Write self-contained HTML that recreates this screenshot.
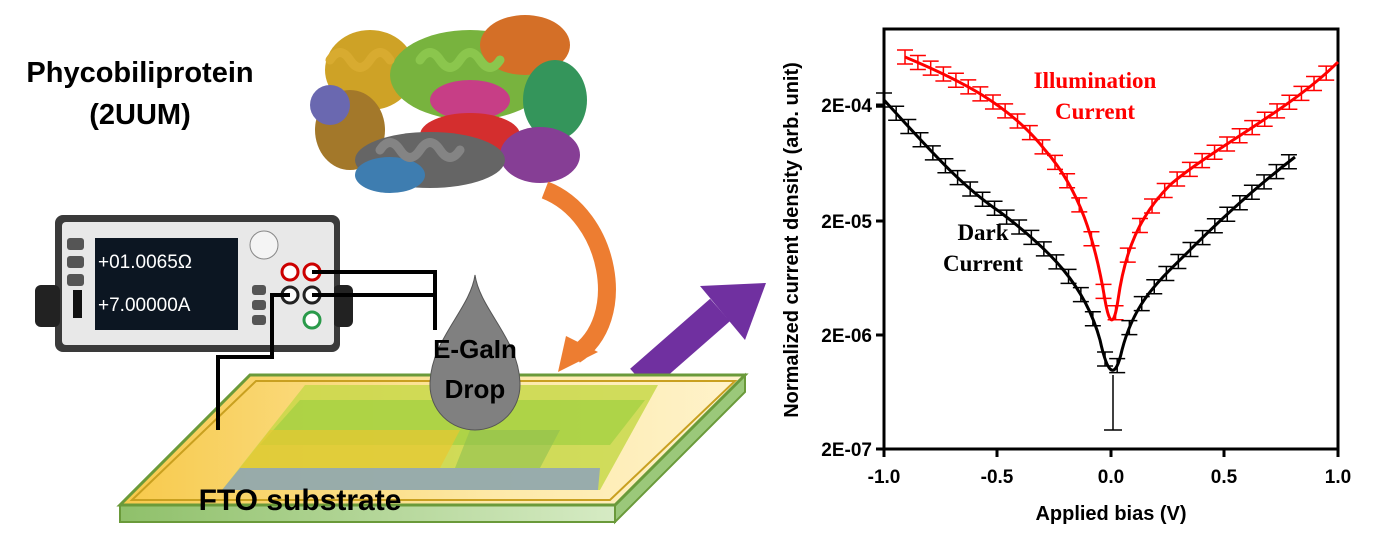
<!DOCTYPE html>
<html><head><meta charset="utf-8"><style>
body{margin:0;background:#fff;width:1379px;height:542px;overflow:hidden}
svg{display:block}
text{font-family:"Liberation Sans",sans-serif}
text.serif{font-family:"Liberation Serif",serif}
</style></head><body>
<svg id="s" width="1379" height="542" viewBox="0 0 1379 542" xmlns="http://www.w3.org/2000/svg">
<defs>
<linearGradient id="sub" x1="0" y1="0" x2="1" y2="0"><stop offset="0" stop-color="#f7c94a"/><stop offset="0.6" stop-color="#fde9a8"/><stop offset="1" stop-color="#fff3cc"/></linearGradient>
<linearGradient id="grn" x1="0" y1="0" x2="1" y2="0"><stop offset="0" stop-color="#8fc06a"/><stop offset="1" stop-color="#d6ebc4"/></linearGradient>
</defs>
<text x="140" y="82" font-size="29" font-weight="bold" text-anchor="middle">Phycobiliprotein</text>
<text x="140" y="124" font-size="29" font-weight="bold" text-anchor="middle">(2UUM)</text>
<g stroke-width="9" fill="none" stroke-linecap="round" opacity="0.9">
<ellipse cx="370" cy="70" rx="45" ry="40" fill="#c9990f" stroke="none"/>
<ellipse cx="350" cy="130" rx="35" ry="40" fill="#9a6a14" stroke="none"/>
<ellipse cx="330" cy="105" rx="20" ry="20" fill="#5a58a8" stroke="none"/>
<ellipse cx="470" cy="75" rx="80" ry="45" fill="#6aab2a" stroke="none"/>
<ellipse cx="525" cy="45" rx="45" ry="30" fill="#d06010" stroke="none"/>
<ellipse cx="555" cy="100" rx="32" ry="40" fill="#1f8a4a" stroke="none"/>
<ellipse cx="470" cy="100" rx="40" ry="20" fill="#c22a7a" stroke="none"/>
<ellipse cx="470" cy="135" rx="50" ry="22" fill="#d01818" stroke="none"/>
<ellipse cx="540" cy="155" rx="40" ry="28" fill="#7a2a8a" stroke="none"/>
<ellipse cx="430" cy="160" rx="75" ry="28" fill="#555" stroke="none"/>
<ellipse cx="390" cy="175" rx="35" ry="18" fill="#2a70a8" stroke="none"/>
<path d="M330 60 q10 -15 20 0 q10 15 20 0 q10 -15 20 0" stroke="#d4a21a"/>
<path d="M420 60 q10 -15 20 0 q10 15 20 0 q10 -15 20 0 q10 15 20 0" stroke="#7fc03a"/>
<path d="M380 150 q10 -15 20 0 q10 15 20 0 q10 -15 20 0 q10 15 20 0" stroke="#777"/>
</g>
<path d="M545 190 C 610 215, 630 320, 575 355" stroke="#ed7d31" stroke-width="18" fill="none"/>
<polygon points="558,372 598,352 566,336" fill="#ed7d31"/>
<path d="M640 380 L 720 310" stroke="#7030a0" stroke-width="30" fill="none"/>
<polygon points="700,286 766,283 745,340" fill="#7030a0"/>
<polygon points="120,505 615,505 615,522 120,522" fill="url(#grn)" stroke="#6a9a3a" stroke-width="2"/>
<polygon points="615,505 745,375 745,392 615,522" fill="#9bc87a" stroke="#6a9a3a" stroke-width="2"/>
<polygon points="120,505 250,375 745,375 615,505" fill="url(#sub)" stroke="#6a9a3a" stroke-width="3"/>
<polygon points="132,500 256,381 735,381 610,500" fill="none" stroke="#c9a020" stroke-width="2"/>
<g>
<polygon points="222,490 305,385 658,385 600,490" fill="#c8d84a" opacity="0.85"/>
<polygon points="222,490 240,468 600,468 598,490" fill="#8aa0c0" opacity="0.8"/>
<polygon points="260,445 300,400 645,400 610,445" fill="#a0d040" opacity="0.7"/>
<polygon points="240,468 270,430 460,430 440,468" fill="#e8c830" opacity="0.7"/>
<polygon points="470,430 560,430 540,468 455,468" fill="#90c050" opacity="0.6"/>
</g>
<text x="300" y="510" font-size="30" font-weight="bold" text-anchor="middle">FTO substrate</text>
<rect x="55" y="215" width="285" height="137" rx="8" fill="#3a3a3a"/>
<rect x="35" y="285" width="25" height="42" rx="6" fill="#222"/>
<rect x="333" y="285" width="20" height="42" rx="6" fill="#222"/>
<rect x="62" y="222" width="272" height="123" rx="4" fill="#e8e8e8"/>
<rect x="95" y="238" width="143" height="92" fill="#0c1622"/>
<text x="98" y="268" font-size="19" fill="#fff">+01.0065Ω</text>
<text x="98" y="311" font-size="19" fill="#fff">+7.00000A</text>
<rect x="67" y="238" width="17" height="12" rx="3" fill="#555"/>
<rect x="67" y="256" width="17" height="12" rx="3" fill="#555"/>
<rect x="67" y="274" width="17" height="12" rx="3" fill="#555"/>
<rect x="73" y="290" width="9" height="28" fill="#111"/>
<circle cx="264" cy="245" r="14" fill="#f4f4f4" stroke="#888"/>
<circle cx="290" cy="272" r="8" fill="#fff" stroke="#c00" stroke-width="3"/>
<circle cx="312" cy="272" r="8" fill="#fff" stroke="#c00" stroke-width="3"/>
<circle cx="290" cy="295" r="8" fill="#fff" stroke="#222" stroke-width="3"/>
<circle cx="312" cy="295" r="8" fill="#fff" stroke="#222" stroke-width="3"/>
<circle cx="312" cy="320" r="8" fill="#fff" stroke="#2a9a4a" stroke-width="3"/>
<rect x="252" y="285" width="14" height="10" rx="3" fill="#555"/>
<rect x="252" y="300" width="14" height="10" rx="3" fill="#555"/>
<rect x="252" y="315" width="14" height="10" rx="3" fill="#555"/>
<path d="M475 275 C 480 310, 520 340, 520 385 A 45 45 0 0 1 430 385 C 430 340, 470 310, 475 275 Z" fill="#808080" stroke="#555" stroke-width="1"/>
<text x="475" y="358" font-size="26" font-weight="bold" text-anchor="middle">E-GaIn</text>
<text x="475" y="398" font-size="26" font-weight="bold" text-anchor="middle">Drop</text>
<g stroke="#000" stroke-width="4" fill="none">
<path d="M312 272 H 435 V 330"/>
<path d="M312 295 H 435"/>
<path d="M290 295 H 272 V 357 H 218 V 430"/>
</g>
<rect x="884" y="29" width="454" height="420" fill="none" stroke="#000" stroke-width="3"/>
<g stroke="#000" stroke-width="3">
<line x1="876" y1="105" x2="884" y2="105"/><line x1="876" y1="221" x2="884" y2="221"/><line x1="876" y1="335" x2="884" y2="335"/><line x1="876" y1="449" x2="884" y2="449"/>
<line x1="884" y1="449" x2="884" y2="457"/><line x1="997" y1="449" x2="997" y2="457"/><line x1="1111" y1="449" x2="1111" y2="457"/><line x1="1224" y1="449" x2="1224" y2="457"/><line x1="1338" y1="449" x2="1338" y2="457"/>
</g>
<g font-size="19" font-weight="bold" text-anchor="end">
<text x="872" y="112">2E-04</text><text x="872" y="228">2E-05</text><text x="872" y="342">2E-06</text><text x="872" y="456">2E-07</text>
</g>
<g font-size="19" font-weight="bold" text-anchor="middle">
<text x="884" y="483">-1.0</text><text x="997" y="483">-0.5</text><text x="1111" y="483">0.0</text><text x="1224" y="483">0.5</text><text x="1338" y="483">1.0</text>
</g>
<text x="1111" y="520" font-size="20" font-weight="bold" text-anchor="middle">Applied bias (V)</text>
<text transform="translate(798,240) rotate(-90)" font-size="20" font-weight="bold" text-anchor="middle">Normalized current density (arb. unit)</text>
<path id="red" d="M905 57 C 960 80, 1010 105, 1045 150 C 1080 190, 1095 240, 1105 300 Q 1112 340 1118 300 C 1125 250, 1140 215, 1170 185 C 1210 150, 1290 110, 1338 62" stroke="#f00" stroke-width="3" fill="none"/>
<path id="blk" d="M884 100 C 930 150, 960 185, 1000 212 C 1050 250, 1085 285, 1100 340 Q 1112 395 1122 350 C 1135 300, 1160 280, 1190 250 C 1230 210, 1265 180, 1295 157" stroke="#000" stroke-width="3" fill="none"/>
<g id="eb"></g>
<line x1="1113" y1="375" x2="1113" y2="430" stroke="#000" stroke-width="1.5"/>
<line x1="1104" y1="430" x2="1122" y2="430" stroke="#000" stroke-width="1.5"/>
<g font-weight="bold" font-size="23">
<text class="serif" x="1095" y="88" fill="#f00" text-anchor="middle">Illumination</text>
<text class="serif" x="1095" y="119" fill="#f00" text-anchor="middle">Current</text>
<text class="serif" x="983" y="240" text-anchor="middle">Dark</text>
<text class="serif" x="983" y="271" text-anchor="middle">Current</text>
</g>
</svg>
<script>
(function(){
var ns="http://www.w3.org/2000/svg",g=document.getElementById("eb");
function bars(id,col,step){
var p=document.getElementById(id),L=p.getTotalLength(),lastx=-99;
for(var l=0;l<=L;l+=1){var pt=p.getPointAtLength(l);
if(pt.x-lastx>=step){lastx=pt.x;
var h=7;
[[pt.x,pt.y-h,pt.x,pt.y+h],[pt.x-8,pt.y-h,pt.x+8,pt.y-h],[pt.x-8,pt.y+h,pt.x+8,pt.y+h]].forEach(function(c){
var e=document.createElementNS(ns,"line");e.setAttribute("x1",c[0]);e.setAttribute("y1",c[1]);e.setAttribute("x2",c[2]);e.setAttribute("y2",c[3]);e.setAttribute("stroke",col);e.setAttribute("stroke-width","1.5");g.appendChild(e);});}}}
bars("red","#f00",12);bars("blk","#000",12);
})();
</script>
</body></html>
